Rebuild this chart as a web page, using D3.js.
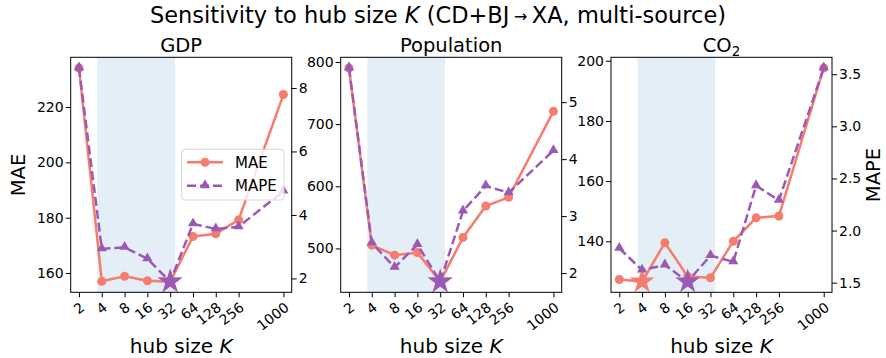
<!DOCTYPE html>
<html>
<head>
<meta charset="utf-8">
<script src="https://cdn.jsdelivr.net/npm/d3@7"></script>
<style>
body { margin: 0; background: #fff; }
text { font-family: "DejaVu Sans", sans-serif; fill: #000; }
</style>
</head>
<body>
<script>
var hubSizes = [2, 4, 8, 16, 32, 64, 128, 256, 1000];
var xTickLabels = ["2", "4", "8", "16", "32", "64", "128", "256", "1000"];

var panelTitles = ["GDP", "Population", "CO2"];

var gdpMAE = [234.1, 157.0, 158.8, 157.2, 156.9, 173.2, 174.2, 179.2, 224.5];
var gdpMAPE = [8.63, 2.93, 2.98, 2.62, 1.90, 3.72, 3.56, 3.63, 4.75];
var popMAE = [790.3, 505.3, 489.2, 493.5, 446.6, 517.7, 568.2, 582.2, 720.5];
var popMAPE = [5.60, 2.53, 2.10, 2.50, 1.85, 3.09, 3.53, 3.41, 4.15];
var co2MAE = [127.3, 126.6, 139.5, 128.3, 127.9, 140.0, 147.8, 148.4, 197.6];
var co2MAPE = [1.83, 1.62, 1.67, 1.51, 1.76, 1.70, 2.43, 2.29, 3.56];

var maeTicks = [[160, 180, 200, 220], [500, 600, 700, 800], [140, 160, 180, 200]];
var mapeTicks = [[2, 4, 6, 8], [2, 3, 4, 5], [1.5, 2.0, 2.5, 3.0, 3.5]];

var hubBand = [3.5, 37];

function init() {
    var w = 886;
    var h = 358;
    var top = 57.3, bottom = 292.3;
    var pw = 221;
    var lefts = [70.7, 340.7, 611];
    var maeColor = "#f67c6e";
    var mapeColor = "#9b59b6";

    var maeData = [gdpMAE, popMAE, co2MAE];
    var mapeData = [gdpMAPE, popMAPE, co2MAPE];

    var svg = d3.select("body")
        .append("svg")
        .attr("width", w)
        .attr("height", h);

    svg.append("text")
        .attr("x", 438)
        .attr("y", 23)
        .attr("text-anchor", "middle")
        .style("font-size", "22.5px")
        .html('Sensitivity to hub size <tspan font-style="italic">K</tspan> (CD+BJ\u2009<tspan font-size="16px" dy="-1">\u2192</tspan><tspan dy="1">\u2009XA, multi-source)</tspan>');

    function pad(ext) {
        var r = ext[1] - ext[0];
        return [ext[0] - r * 0.05, ext[1] + r * 0.05];
    }

    var octPad = 0.363;
    var xDomain = [2 * Math.pow(2, -octPad), 1000 * Math.pow(2, octPad)];

    for (var p = 0; p < 3; p++) {
        var g = svg.append("g").attr("transform", "translate(" + lefts[p] + ",0)");

        var x = d3.scaleLog().base(2).domain(xDomain).range([0, pw]);
        var yL = d3.scaleLinear().domain(pad(d3.extent(maeData[p]))).range([bottom, top]);
        var yR = d3.scaleLinear().domain(pad(d3.extent(mapeData[p]))).range([bottom, top]);

        // shaded hub range
        g.append("rect")
            .attr("x", x(hubBand[0]))
            .attr("y", top)
            .attr("width", x(hubBand[1]) - x(hubBand[0]))
            .attr("height", bottom - top)
            .attr("fill", "#e3eef6");

        // MAE line
        var lineL = d3.line()
            .x(function (d, i) { return x(hubSizes[i]); })
            .y(function (d) { return yL(d); });
        g.append("path")
            .datum(maeData[p])
            .attr("d", lineL)
            .attr("fill", "none")
            .attr("stroke", maeColor)
            .attr("stroke-width", 2.5);
        g.selectAll(".dotL")
            .data(maeData[p])
            .enter()
            .append("circle")
            .attr("cx", function (d, i) { return x(hubSizes[i]); })
            .attr("cy", function (d) { return yL(d); })
            .attr("r", 4.5)
            .attr("fill", maeColor);

        var minL = maeData[p].indexOf(d3.min(maeData[p]));
        g.append("path")
            .attr("d", d3.symbol().type(d3.symbolStar).size(190)())
            .attr("transform", "translate(" + x(hubSizes[minL]) + "," + yL(maeData[p][minL]) + ")")
            .attr("fill", maeColor);

        // MAPE line
        var lineR = d3.line()
            .x(function (d, i) { return x(hubSizes[i]); })
            .y(function (d) { return yR(d); });
        g.append("path")
            .datum(mapeData[p])
            .attr("d", lineR)
            .attr("fill", "none")
            .attr("stroke", mapeColor)
            .attr("stroke-width", 2.5)
            .attr("stroke-dasharray", "9,4");
        g.selectAll(".triR")
            .data(mapeData[p])
            .enter()
            .append("path")
            .attr("d", d3.symbol().type(d3.symbolTriangle).size(45)())
            .attr("transform", function (d, i) { return "translate(" + x(hubSizes[i]) + "," + (yR(d) - 0.5) + ")"; })
            .attr("fill", mapeColor);

        var minR = mapeData[p].indexOf(d3.min(mapeData[p]));
        g.append("path")
            .attr("d", d3.symbol().type(d3.symbolStar).size(190)())
            .attr("transform", "translate(" + x(hubSizes[minR]) + "," + yR(mapeData[p][minR]) + ")")
            .attr("fill", mapeColor);

        // frame
        g.append("rect")
            .attr("x", 0).attr("y", top)
            .attr("width", pw).attr("height", bottom - top)
            .attr("fill", "none")
            .attr("stroke", "#000")
            .attr("stroke-width", 1);

        // axes
        var xAxis = g.append("g")
            .attr("transform", "translate(0," + bottom + ")")
            .call(d3.axisBottom(x).tickValues(hubSizes).tickFormat(function (d, i) { return xTickLabels[i]; }).tickSize(5).tickSizeOuter(0));
        xAxis.selectAll("text")
            .style("font-size", "14px")
            .attr("text-anchor", "end")
            .attr("dy", null)
            .attr("y", 0)
            .attr("transform", "translate(6,17) rotate(-38)");

        var lAxis = g.append("g")
            .call(d3.axisLeft(yL).tickValues(maeTicks[p]).tickSize(5).tickSizeOuter(0));
        lAxis.selectAll("text").style("font-size", "14px").attr("x", -7);

        var rAxis = g.append("g")
            .attr("transform", "translate(" + pw + ",0)")
            .call(d3.axisRight(yR).tickValues(mapeTicks[p])
                .tickFormat(p === 2 ? d3.format(".1f") : d3.format("d"))
                .tickSize(5).tickSizeOuter(0));
        rAxis.selectAll("text").style("font-size", "14px").attr("x", 7);

        [xAxis, lAxis, rAxis].forEach(function (a) {
            a.select(".domain").remove();
            a.selectAll("line").attr("stroke", "#000");
            a.selectAll("text").style("font-family", "DejaVu Sans").attr("fill", "#000");
        });

        // titles
        var title = g.append("text")
            .attr("x", pw / 2)
            .attr("y", 51.7)
            .attr("text-anchor", "middle")
            .style("font-size", "19.5px");
        if (panelTitles[p] === "CO2") {
            title.html('CO<tspan font-size="13.5px" dy="4">2</tspan>');
        } else {
            title.text(panelTitles[p]);
        }

        g.append("text")
            .attr("x", pw / 2)
            .attr("y", 352.5)
            .attr("text-anchor", "middle")
            .style("font-size", "20px")
            .html('hub size <tspan font-style="italic">K</tspan>');
    }

    svg.append("text")
        .attr("transform", "translate(25,175) rotate(-90)")
        .attr("text-anchor", "middle")
        .style("font-size", "19.5px")
        .text("MAE");

    svg.append("text")
        .attr("transform", "translate(880,175) rotate(-90)")
        .attr("text-anchor", "middle")
        .style("font-size", "19.5px")
        .text("MAPE");

    // legend in GDP panel
    var leg = svg.append("g");
    leg.append("rect")
        .attr("x", 181.7).attr("y", 149.3)
        .attr("width", 102.3).attr("height", 50.7)
        .attr("rx", 3)
        .attr("fill", "rgba(255,255,255,0.8)")
        .attr("stroke", "#d6d6d6");
    leg.append("line")
        .attr("x1", 187).attr("x2", 223).attr("y1", 162.3).attr("y2", 162.3)
        .attr("stroke", maeColor).attr("stroke-width", 2.5);
    leg.append("circle")
        .attr("cx", 205).attr("cy", 162.3).attr("r", 4.5).attr("fill", maeColor);
    leg.append("line")
        .attr("x1", 187).attr("x2", 223).attr("y1", 185.7).attr("y2", 185.7)
        .attr("stroke", mapeColor).attr("stroke-width", 2.5).attr("stroke-dasharray", "9,4");
    leg.append("path")
        .attr("d", d3.symbol().type(d3.symbolTriangle).size(45)())
        .attr("transform", "translate(205,185.2)")
        .attr("fill", mapeColor);
    leg.append("text").attr("x", 235).attr("y", 167.5).style("font-size", "15px").text("MAE");
    leg.append("text").attr("x", 235).attr("y", 191).style("font-size", "15px").text("MAPE");
}

window.onload = init;
</script>
</body>
</html>
